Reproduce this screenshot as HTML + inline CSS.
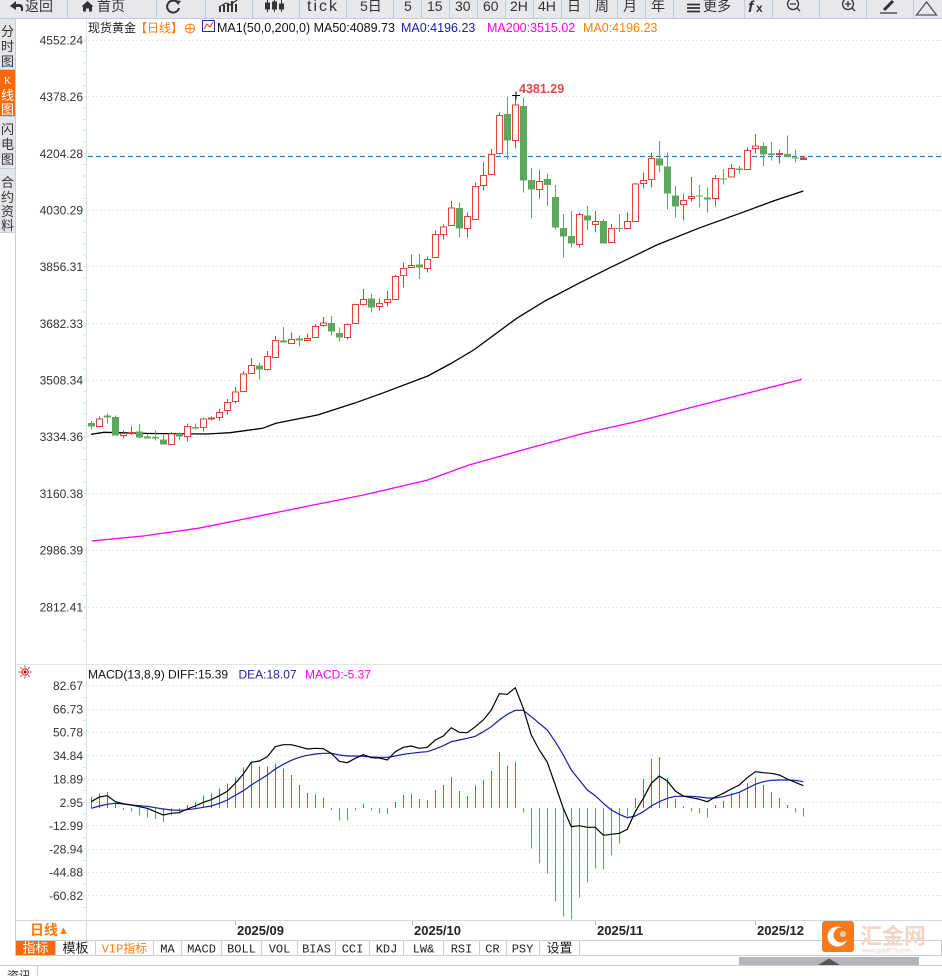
<!DOCTYPE html>
<html><head><meta charset="utf-8"><style>
html,body{margin:0;padding:0;background:#fff;}
body{width:942px;height:976px;overflow:hidden;}
svg{display:block;font-family:"Liberation Sans","Noto Sans CJK SC",sans-serif;}
.ax{font-size:12px;fill:#333;text-anchor:end;}
.mono{font-family:"Liberation Mono","Noto Sans CJK SC",monospace;font-size:12px;fill:#222;text-anchor:middle;}
.sb{font-size:13px;fill:#333;text-anchor:middle;}
.tb{font-size:14px;fill:#333;}
</style></head><body>
<svg width="942" height="976" viewBox="0 0 942 976" xmlns="http://www.w3.org/2000/svg">
<!-- toolbar -->
<rect x="0" y="0" width="942" height="18" fill="#e7e8ed"/>
<line x1="0" y1="18.5" x2="942" y2="18.5" stroke="#c6c9d1"/>
<g stroke="#c6c9d1">
<path d="M67.5 0V18M156.5 0V18M205.5 0V18M252.5 0V18M299.5 0V18M346.5 0V18M393.5 0V18M421.5 0V18M449.5 0V18M477.5 0V18M505.5 0V18M533.5 0V18M561.5 0V18M589.5 0V18M617.5 0V18M645.5 0V18M673.5 0V18M744.5 0V18M772.5 0V18M819.5 0V18M866.5 0V18M913.5 0V18"/>
</g>
<path d="M10 6 L16 1 V4 H19 Q23 4 23 8 V11 H21 V9 Q21 7 19 7 H16 V10 Z" fill="#333"/>
<text x="25" y="11" class="tb">返回</text>
<path d="M81.5 6.5 L87.5 1 L93.5 6.5 H92 V11.5 H89 V8.5 H86 V11.5 H83 V6.5 Z" fill="#333"/>
<text x="97" y="11" class="tb">首页</text>
<path d="M178 3 A6 6 0 1 0 179 8" stroke="#333" stroke-width="2" fill="none"/>
<path d="M175 0 L181 1 L178 5 Z" fill="#333"/>
<path d="M219 12h2v-5h-2zM223 12h2v-7h-2zM227 12h2v-9h-2zM231 12h2v-11h-2zM235 12h2v-8h-2z" fill="#333"/>
<path d="M219 7 L226 3 L230 5 L237 0" stroke="#333" stroke-width="1.2" fill="none"/>
<g fill="#333" stroke="#333"><path d="M267.5 0V12M274.5 0V12M281.5 0V12" stroke-width="1"/><rect x="265.5" y="3" width="4" height="6"/><rect x="272.5" y="2" width="4" height="7"/><rect x="279.5" y="4" width="4" height="5"/></g>
<text x="307" y="11" style="font-size:16px;letter-spacing:2px" fill="#333">tick</text>
<text x="360" y="11" class="tb">5日</text>
<text x="404" y="11" class="tb">5</text>
<text x="427" y="11" class="tb">15</text>
<text x="455" y="11" class="tb">30</text>
<text x="483" y="11" class="tb">60</text>
<text x="510" y="11" class="tb">2H</text>
<text x="538" y="11" class="tb">4H</text>
<text x="567" y="11" class="tb">日</text>
<text x="595" y="11" class="tb">周</text>
<text x="623" y="11" class="tb">月</text>
<text x="651" y="11" class="tb">年</text>
<path d="M687 4.5h13M687 8h13M687 11.5h13" stroke="#333" stroke-width="1.8"/>
<text x="703" y="11" class="tb">更多</text>
<text x="748" y="12" style="font-size:16px;font-style:italic;font-weight:bold" fill="#333">f</text>
<text x="756" y="12" style="font-size:12px;font-weight:bold" fill="#333">x</text>
<circle cx="793" cy="4" r="5.5" stroke="#333" stroke-width="1.3" fill="none"/><path d="M790 4h6M797 8l3 3" stroke="#333" stroke-width="1.3"/>
<circle cx="848" cy="4" r="5.5" stroke="#333" stroke-width="1.3" fill="none"/><path d="M845 4h6M848 1v6M852 8l3 3" stroke="#333" stroke-width="1.3"/>
<path d="M884 10 L893 1" stroke="#333" stroke-width="3"/><path d="M880 13h17" stroke="#333" stroke-width="1.2"/>
<polygon points="916.5,15 926.5,2 936.5,15" stroke="#555" stroke-width="1.3" fill="none"/>

<!-- sidebar -->
<rect x="0" y="19" width="15" height="214" fill="#e5e6eb"/>
<rect x="0" y="70" width="15" height="46" fill="#f76a0c"/>
<path d="M0 69.5h15M0 116.5h15M0 168.5h15M0 232.5h15" stroke="#c9ccd3"/>
<line x1="15.5" y1="19" x2="15.5" y2="956" stroke="#c9ccd3"/>
<text x="7.5" y="36" class="sb">分</text><text x="7.5" y="51" class="sb">时</text><text x="7.5" y="66" class="sb">图</text>
<text x="7.5" y="84" style="font-size:10px;font-family:'Liberation Serif',serif;fill:#fff;text-anchor:middle">K</text>
<text x="7.5" y="100" class="sb" style="fill:#fff">线</text><text x="7.5" y="114" class="sb" style="fill:#fff">图</text>
<text x="7.5" y="134" class="sb">闪</text><text x="7.5" y="149" class="sb">电</text><text x="7.5" y="164" class="sb">图</text>
<text x="7.5" y="187" class="sb">合</text><text x="7.5" y="202" class="sb">约</text><text x="7.5" y="216" class="sb">资</text><text x="7.5" y="230" class="sb">料</text>

<!-- axis -->
<line x1="86.5" y1="19" x2="86.5" y2="920" stroke="#d6e2ec"/>
<g stroke="#d6e2ec">
<path d="M83 40.5h3M83 51.5h3M83 63h3M83 74.5h3M83 85.5h3M83 97h3M83 108h3M83 119.5h3M83 130.5h3M83 142h3M83 153.5h3M83 164.5h3M83 176h3M83 187h3M83 198.5h3M83 210h3M83 221h3M83 232.5h3M83 244h3M83 255h3M83 267h3M83 278h3M83 289.5h3M83 300.5h3M83 312h3M83 323.5h3M83 335h3M83 346h3M83 357.5h3M83 369h3M83 380h3M83 391.5h3M83 403h3M83 414h3M83 425.5h3M83 437h3M83 448h3M83 459.5h3M83 471h3M83 482h3M83 493.5h3M83 505h3M83 516h3M83 527.5h3M83 539h3M83 550h3M83 561.5h3M83 573h3M83 584h3M83 595.5h3M83 607h3M83 618h3M83 629.5h3M83 641h3"/>
<path d="M83 686h3M83 697.5h3M83 709h3M83 720.5h3M83 732.5h3M83 744h3M83 756h3M83 767.5h3M83 779h3M83 790.5h3M83 802.5h3M83 814h3M83 826h3M83 837.5h3M83 849h3M83 860.5h3M83 872.5h3M83 884h3M83 896h3M83 907.5h3"/>
</g>

<!-- gridlines -->
<g stroke="#e4e6e9" stroke-dasharray="2,2">
<path d="M88 40.5H942M88 96.5H942M88 153.5H942M88 210.5H942M88 266.5H942M88 323.5H942M88 380.5H942M88 436.5H942M88 493.5H942M88 550.5H942M88 607.5H942"/>
<path d="M88 685.5H942M88 709.5H942M88 732.5H942M88 755.5H942M88 779.5H942M88 802.5H942M88 825.5H942M88 849.5H942M88 872.5H942M88 895.5H942"/>
</g>

<!-- title -->
<text x="88" y="32" style="font-size:12px" fill="#222">现货黄金</text>
<text x="135" y="32" style="font-size:12px" fill="#ff7b0f">【日线】</text>
<circle cx="190" cy="28.5" r="4.5" stroke="#ff7b0f" fill="none"/><path d="M185.5 28.5h9M190 24v9" stroke="#ff7b0f"/>
<rect x="202.5" y="20.5" width="12" height="11" fill="#fff" stroke="#2a2a9a"/><path d="M204 29 L207 24 L210 27 L213 22" stroke="#e03030" fill="none"/>
<text x="217" y="32" style="font-size:12.5px" fill="#111">MA1(50,0,200,0) MA50:4089.73</text>
<text x="401" y="32" style="font-size:12.5px" fill="#1e1e9e">MA0:4196.23</text>
<text x="487" y="32" style="font-size:12.5px" fill="#ff00ff">MA200:3515.02</text>
<text x="583" y="32" style="font-size:12.5px" fill="#ff8000">MA0:4196.23</text>

<!-- price axis labels -->
<text x="83" y="44.5" class="ax">4552.24</text>
<text x="83" y="101" class="ax">4378.26</text>
<text x="83" y="158" class="ax">4204.28</text>
<text x="83" y="214.5" class="ax">4030.29</text>
<text x="83" y="271" class="ax">3856.31</text>
<text x="83" y="328" class="ax">3682.33</text>
<text x="83" y="384.5" class="ax">3508.34</text>
<text x="83" y="441" class="ax">3334.36</text>
<text x="83" y="498" class="ax">3160.38</text>
<text x="83" y="554.5" class="ax">2986.39</text>
<text x="83" y="611.5" class="ax">2812.41</text>

<!-- MA200 -->
<polyline fill="none" stroke="#ff00ff" stroke-width="1.3" points="91.7,541 143,536 198,528.3 239.5,520 308.4,506 363.5,495 427.8,480 469,465 528.8,448.3 583.9,433.3 639,421 694,406.7 749,392.7 802,379.3"/>
<!-- MA50 -->
<polyline fill="none" stroke="#000" stroke-width="1.3" points="91,434.3 104,432.3 150,433.5 207,434 230,432.7 262.5,428.3 276,423.3 317.6,415 354,403.3 382,393.3 427.8,376 450,364 473.7,350 516.7,318.3 545,301 580,282.7 606.7,269.3 656.7,245 700,227.7 740,213.3 773.3,201 803.3,191"/>

<!-- current price line -->
<line x1="88" y1="156.5" x2="942" y2="156.5" stroke="#1f7fe0" stroke-width="1.3" stroke-dasharray="5,3"/>

<!-- green candles -->
<g fill="#5ea75e" stroke="none" shape-rendering="crispEdges">
<path stroke="#5ea75e" d="M91.5 421V429.7M107.5 413.3V423.7M115.5 415.3V435.7M139.5 424V438.3M147.5 433.7V438.3M155.5 430.3V440.7M163.5 434V444.7M179.5 432.3V440.3M195.5 423.3V429.3M259.5 363V379.7M283.5 327V342.7M299.5 335.3V346.7M331.5 316V335.3M339.5 327.3V341.7M371.5 293.3V312.7M419.5 254V279M459.5 202.7V237.7M507.5 96.7V159.3M523.5 97.7V192.7M531.5 168V218.7M547.5 173.7V206M555.5 185V229.7M563.5 214V257.7M571.5 211V247.7M587.5 206V230M603.5 219V243.7M619.5 214V232M659.5 141V172.7M667.5 152.3V209.7M675.5 186V217.7M699.5 185V207.7M707.5 187.7V212.3M723.5 169V184.7M739.5 166V173.7M763.5 142.3V166.3M771.5 142V160.3M787.5 135.7V157M795.5 149.3V162.3"/>
<rect x="88" y="423" width="7" height="3.7"/>
<rect x="104" y="415.7" width="7" height="2"/>
<rect x="112" y="417" width="7" height="18.7"/>
<rect x="136" y="431.3" width="7" height="6.4"/>
<rect x="144" y="436.3" width="7" height="2"/>
<rect x="152" y="437" width="7" height="1.7"/>
<rect x="160" y="439.3" width="7" height="5.4"/>
<rect x="176" y="433.7" width="7" height="3"/>
<rect x="192" y="427" width="7" height="1.3"/>
<rect x="256" y="365.3" width="7" height="4.4"/>
<rect x="280" y="340.3" width="7" height="2.4"/>
<rect x="296" y="338.3" width="7" height="2.4"/>
<rect x="328" y="323" width="7" height="8.7"/>
<rect x="336" y="333" width="7" height="4.3"/>
<rect x="368" y="298.3" width="7" height="9.4"/>
<rect x="416" y="264.3" width="7" height="3"/>
<rect x="456" y="208" width="7" height="20.7"/>
<rect x="504" y="114" width="7" height="26.7"/>
<rect x="520" y="106" width="7" height="74.7"/>
<rect x="528" y="180" width="7" height="9.7"/>
<rect x="544" y="179" width="7" height="6"/>
<rect x="552" y="197" width="7" height="30.7"/>
<rect x="560" y="228" width="7" height="8.7"/>
<rect x="568" y="236" width="7" height="7.7"/>
<rect x="584" y="215.3" width="7" height="5.4"/>
<rect x="600" y="221" width="7" height="22.7"/>
<rect x="616" y="228" width="7" height="1.2"/>
<rect x="656" y="158.3" width="7" height="7.4"/>
<rect x="664" y="166.3" width="7" height="27.4"/>
<rect x="672" y="195.3" width="7" height="11.4"/>
<rect x="696" y="195.3" width="7" height="1.4"/>
<rect x="704" y="197.3" width="7" height="2"/>
<rect x="720" y="178.3" width="7" height="1.2"/>
<rect x="736" y="168.7" width="7" height="1.2"/>
<rect x="760" y="146" width="7" height="8.3"/>
<rect x="768" y="153.7" width="7" height="1.2"/>
<rect x="784" y="154" width="7" height="3"/>
<rect x="792" y="157.3" width="7" height="1.2"/>
</g>

<!-- red candles -->
<g stroke="#e2403b" fill="#fff" shape-rendering="crispEdges">
<path d="M99.5 416.3V427.7"/><rect x="96.5" y="419" width="6" height="7.3"/>
<path d="M123.5 430.3V438.7"/><rect x="120.5" y="433.7" width="6" height="1.6"/>
<path d="M131.5 426.3V435"/><rect x="128.5" y="432.3" width="6" height="1"/>
<path d="M171.5 432V444.7"/><rect x="168.5" y="434" width="6" height="10.7"/>
<path d="M187.5 423.3V441.7"/><rect x="184.5" y="426.3" width="6" height="10.4"/>
<path d="M203.5 417.7V431.7"/><rect x="200.5" y="419" width="6" height="8.3"/>
<path d="M211.5 416.7V420.3"/><rect x="208.5" y="418" width="6" height="1"/>
<path d="M219.5 409V420.3"/><rect x="216.5" y="412.3" width="6" height="5.4"/>
<path d="M227.5 399V414.7"/><rect x="224.5" y="402.3" width="6" height="8"/>
<path d="M235.5 387V403.7"/><rect x="232.5" y="392" width="6" height="9.3"/>
<path d="M243.5 371V392.7"/><rect x="240.5" y="374" width="6" height="17.3"/>
<path d="M251.5 358V374"/><rect x="248.5" y="365.3" width="6" height="8"/>
<path d="M267.5 351V370.7"/><rect x="264.5" y="356.3" width="6" height="13"/>
<path d="M275.5 336V357.3"/><rect x="272.5" y="340.3" width="6" height="17"/>
<path d="M291.5 332.3V343.3"/><rect x="288.5" y="339.3" width="6" height="4"/>
<path d="M307.5 333.3V340.3"/><rect x="304.5" y="338.3" width="6" height="2"/>
<path d="M315.5 324V337.3"/><rect x="312.5" y="326.3" width="6" height="11"/>
<path d="M323.5 317V326.3"/><rect x="320.5" y="323" width="6" height="2.3"/>
<path d="M347.5 323.3V339.3"/><rect x="344.5" y="324.3" width="6" height="13"/>
<path d="M355.5 303.3V323.3"/><rect x="352.5" y="304.3" width="6" height="19"/>
<path d="M363.5 289V305.3"/><rect x="360.5" y="299.3" width="6" height="5"/>
<path d="M379.5 298.7V310.7"/><rect x="376.5" y="303.3" width="6" height="3"/>
<path d="M387.5 291V306.7"/><rect x="384.5" y="299.3" width="6" height="3"/>
<path d="M395.5 275V299.3"/><rect x="392.5" y="276.3" width="6" height="23"/>
<path d="M403.5 262.3V287.7"/><rect x="400.5" y="268.3" width="6" height="7"/>
<path d="M411.5 254.7V267.3"/><rect x="408.5" y="265.3" width="6" height="2"/>
<path d="M427.5 256.3V272.3"/><rect x="424.5" y="259.7" width="6" height="8.6"/>
<path d="M435.5 230.3V257.3"/><rect x="432.5" y="234.3" width="6" height="23"/>
<path d="M443.5 224.3V239.3"/><rect x="440.5" y="227" width="6" height="7.3"/>
<path d="M451.5 201V225.3"/><rect x="448.5" y="208" width="6" height="17.3"/>
<path d="M467.5 212.7V237.7"/><rect x="464.5" y="216.3" width="6" height="12.4"/>
<path d="M475.5 182.3V219.3"/><rect x="472.5" y="186.3" width="6" height="33"/>
<path d="M483.5 162V190.7"/><rect x="480.5" y="175.7" width="6" height="9.6"/>
<path d="M491.5 149V174.3"/><rect x="488.5" y="154.3" width="6" height="20"/>
<path d="M499.5 112.7V154.7"/><rect x="496.5" y="115.3" width="6" height="38"/>
<path d="M515.5 95.7V148.7"/><rect x="512.5" y="105" width="6" height="35.7"/>
<path d="M539.5 170V198.7"/><rect x="536.5" y="181.3" width="6" height="8"/>
<path d="M579.5 212.3V247.7"/><rect x="576.5" y="214.7" width="6" height="29.6"/>
<path d="M595.5 211V232.3"/><rect x="592.5" y="221.3" width="6" height="3"/>
<path d="M611.5 224V242.3"/><rect x="608.5" y="228.3" width="6" height="14"/>
<path d="M627.5 212V228.7"/><rect x="624.5" y="221.3" width="6" height="7.4"/>
<path d="M635.5 183V221.3"/><rect x="632.5" y="184" width="6" height="37.3"/>
<path d="M643.5 172.3V188.7"/><rect x="640.5" y="180.3" width="6" height="3"/>
<path d="M651.5 152.3V187.7"/><rect x="648.5" y="158.3" width="6" height="21"/>
<path d="M683.5 194V220.7"/><rect x="680.5" y="200.3" width="6" height="4"/>
<path d="M691.5 177V201.7"/><rect x="688.5" y="196.3" width="6" height="2"/>
<path d="M715.5 175V206.7"/><rect x="712.5" y="178.7" width="6" height="19.6"/>
<path d="M731.5 164V177"/><rect x="728.5" y="168.3" width="6" height="8.7"/>
<path d="M747.5 147.7V169.3"/><rect x="744.5" y="150.3" width="6" height="19"/>
<path d="M755.5 134V153.7"/><rect x="752.5" y="146" width="6" height="2.3"/>
<path d="M779.5 149.3V163.7"/><rect x="776.5" y="153.7" width="6" height="1"/>
<path d="M803.5 156.7V159.3"/><rect x="800.5" y="158" width="6" height="1.3" fill="#e2403b"/>
</g>

<!-- max marker -->
<path d="M512 95.5h8M516 91.5v8" stroke="#000" stroke-width="1"/>
<text x="519" y="93" style="font-size:12.5px;font-weight:bold" fill="#e04848">4381.29</text>

<!-- MACD panel -->
<line x1="16" y1="664.5" x2="942" y2="664.5" stroke="#dde4ea"/>
<g transform="translate(25,672)">
<circle r="3.2" fill="none" stroke="#e02020" stroke-width="1.2"/><circle r="1.5" fill="#900"/>
<path d="M0 -6.5V-4.5M0 4.5V6.5M-6.5 0H-4.5M4.5 0H6.5M-4.6 -4.6L-3.3 -3.3M3.3 3.3L4.6 4.6M-4.6 4.6L-3.3 3.3M3.3 -3.3L4.6 -4.6" stroke="#e02020" stroke-width="1"/>
</g>
<text x="88" y="678.5" style="font-size:12px" fill="#111">MACD(13,8,9) DIFF:15.39</text>
<text x="238.5" y="678.5" style="font-size:12px" fill="#1e1e9e">DEA:18.07</text>
<text x="305" y="678.5" style="font-size:12px" fill="#ff00ff">MACD:-5.37</text>

<text x="83" y="690" class="ax">82.67</text>
<text x="83" y="713.5" class="ax">66.73</text>
<text x="83" y="736.5" class="ax">50.78</text>
<text x="83" y="760" class="ax">34.84</text>
<text x="83" y="783.5" class="ax">18.89</text>
<text x="83" y="807" class="ax">2.95</text>
<text x="83" y="830" class="ax">-12.99</text>
<text x="83" y="853.5" class="ax">-28.94</text>
<text x="83" y="876.5" class="ax">-44.88</text>
<text x="83" y="900" class="ax">-60.82</text>

<path shape-rendering="crispEdges" stroke="#d8443f" stroke-width="1" d="M91.5 808V797M99.5 808V793.7M107.5 808V792M115.5 808V803M187.5 808V805M195.5 808V802M203.5 808V795.7M211.5 808V793.3M219.5 808V788.7M227.5 808V783.3M235.5 808V777.7M243.5 808V767.3M251.5 808V762.7M259.5 808V766.3M267.5 808V766.3M275.5 808V763.3M283.5 808V768.7M291.5 808V775M299.5 808V785M307.5 808V793M315.5 808V794.7M323.5 808V797.7M363.5 808V803.7M395.5 808V802M403.5 808V795M411.5 808V794M419.5 808V799M427.5 808V800M435.5 808V790M443.5 808V785M451.5 808V777M459.5 808V791M467.5 808V796M475.5 808V785.7M483.5 808V780M491.5 808V771M499.5 808V752M507.5 808V765.7M515.5 808V762M635.5 808V798M643.5 808V779M651.5 808V759M659.5 808V757M667.5 808V778M675.5 808V799M683.5 808V806.5M715.5 808V805M723.5 808V801M731.5 808V793M739.5 808V793M747.5 808V783M755.5 808V778M763.5 808V785M771.5 808V792M779.5 808V798M787.5 808V805"/>
<path shape-rendering="crispEdges" stroke="#5ea75e" stroke-width="1" d="M123.5 808V810M131.5 808V811.3M139.5 808V815.7M147.5 808V817.7M155.5 808V819M163.5 808V822M171.5 808V815.7M179.5 808V813.3M331.5 808V810M339.5 808V820.7M347.5 808V820.7M355.5 808V810.7M371.5 808V810.7M379.5 808V813.3M387.5 808V814M523.5 808V812.7M531.5 808V848.7M539.5 808V863.7M547.5 808V873.7M555.5 808V901.7M563.5 808V916.7M571.5 808V919.3M579.5 808V897.7M587.5 808V882.7M595.5 808V868.7M603.5 808V869.7M611.5 808V855.7M619.5 808V843.7M627.5 808V816.7M691.5 808V811.7M699.5 808V813.7M707.5 808V817.7M795.5 808V812.7M803.5 808V816.7"/>

<polyline fill="none" stroke="#1a1aa6" stroke-width="1.2" points="91.3,808.3 99.3,806 107.3,804.3 115.3,803.3 123.3,804 131.3,805 139.3,805.7 147.3,806.3 155.3,807.7 163.3,809 171.3,810 179.3,810.3 187.3,809.7 195.3,808.7 203.3,807.3 211.3,806 219.3,803.3 227.3,800 235.3,795.3 243.3,790.7 251.3,785 259.3,780 267.3,775 275.3,769 283.3,764.3 291.3,760.3 299.3,757.3 307.3,755.3 315.3,754 323.3,753.3 331.3,753.3 339.3,755 347.3,756 355.3,756 363.3,756.3 371.3,757 379.3,757.3 387.3,757.3 395.3,756 403.3,754.3 411.3,753.3 419.3,752.3 427.3,751.7 435.3,749 443.3,745.7 451.3,741.7 459.3,740 467.3,738.3 475.3,736.3 483.3,731.7 491.3,726.7 499.3,720 507.3,714.3 515.3,710.3 523.3,710.3 531.3,716.7 539.3,723.3 547.3,730 555.3,741.7 563.3,755 571.3,770 579.3,780 587.3,790 595.3,795.7 603.3,803.3 611.3,810 619.3,814.3 627.3,817.7 635.3,816 643.3,811.7 651.3,806 659.3,801.7 667.3,798.3 675.3,796.3 683.3,796.3 691.3,796.3 699.3,797 707.3,798 715.3,798 723.3,796.7 731.3,794.7 739.3,792.3 747.3,788.3 755.3,784.3 763.3,781.7 771.3,780.3 779.3,780 787.3,780 795.3,780.3 803.3,781.7"/>
<polyline fill="none" stroke="#000" stroke-width="1.2" points="91.3,801.7 99.3,797 107.3,795.7 115.3,801.7 123.3,803.7 131.3,805 139.3,806.7 147.3,808.3 155.3,811.7 163.3,815 171.3,813.3 179.3,812.7 187.3,809 195.3,806 203.3,802.3 211.3,799.7 219.3,795.7 227.3,791.3 235.3,783.3 243.3,774 251.3,762.3 259.3,761 267.3,756.7 275.3,746.7 283.3,744.7 291.3,744.7 299.3,746.7 307.3,749 315.3,748.3 323.3,748.7 331.3,753.3 339.3,761.3 347.3,762.7 355.3,758.3 363.3,754.7 371.3,757.7 379.3,758 387.3,760 395.3,751.7 403.3,747.3 411.3,746 419.3,748.3 427.3,747.3 435.3,740 443.3,736 451.3,727.7 459.3,732.3 467.3,732.7 475.3,726.7 483.3,720 491.3,710 499.3,693.7 507.3,694.3 515.3,687.7 523.3,708.3 531.3,735 539.3,750 547.3,762.3 555.3,785 563.3,808.3 571.3,826.7 579.3,825.7 587.3,827.3 595.3,827.3 603.3,835.3 611.3,834.3 619.3,833.3 627.3,829.3 635.3,811.7 643.3,798.3 651.3,783.3 659.3,776 667.3,781 675.3,791 683.3,796 691.3,797.7 699.3,799.3 707.3,801.7 715.3,797 723.3,793.3 731.3,789 739.3,785 747.3,777.7 755.3,771.7 763.3,772.7 771.3,773.3 779.3,775 787.3,779 795.3,782.3 803.3,785.7"/>

<!-- date axis -->
<line x1="15" y1="920.5" x2="942" y2="920.5" stroke="#d3d9e0"/>
<line x1="86.5" y1="920" x2="86.5" y2="940" stroke="#d3d9e0"/>
<path d="M235.5 921v4M412.5 921v4M595.5 921v4M755.5 921v4" stroke="#bbb"/>
<text x="30" y="935" style="font-size:14px;font-weight:bold" fill="#ff7b0f">日线</text>
<text x="58" y="934" style="font-size:11px" fill="#ff7b0f">▲</text>
<g style="font-size:13px;font-weight:bold" fill="#222">
<text x="237" y="935">2025/09</text>
<text x="414" y="935">2025/10</text>
<text x="597" y="935">2025/11</text>
<text x="757" y="935">2025/12</text>
</g>

<!-- indicator tabs -->
<rect x="15.5" y="940.5" width="926" height="15" fill="#fff" stroke="#c9ced6"/>
<rect x="16" y="941" width="39.5" height="14" fill="#f76a0c"/>
<path d="M55.5 941v15M95.5 941v15M153.5 941v15M181.5 941v15M221.5 941v15M261.5 941v15M297.5 941v15M335.5 941v15M369.5 941v15M403.5 941v15M443.5 941v15M479.5 941v15M506.5 941v15M539.5 941v15M579.5 941v15" stroke="#c9ced6"/>
<text x="35.5" y="952.5" class="mono" style="fill:#fff;font-size:13px">指标</text>
<text x="75.5" y="952.5" class="mono" style="font-size:13px">模板</text>
<text x="124.5" y="952.5" class="mono" style="fill:#ff7b0f">VIP指标</text>
<text x="167.5" y="952.5" class="mono">MA</text>
<text x="201.5" y="952.5" class="mono">MACD</text>
<text x="241.5" y="952.5" class="mono">BOLL</text>
<text x="279.5" y="952.5" class="mono">VOL</text>
<text x="316.5" y="952.5" class="mono">BIAS</text>
<text x="352.5" y="952.5" class="mono">CCI</text>
<text x="386.5" y="952.5" class="mono">KDJ</text>
<text x="423.5" y="952.5" class="mono">LW&amp;</text>
<text x="461.5" y="952.5" class="mono">RSI</text>
<text x="492.5" y="952.5" class="mono">CR</text>
<text x="522.5" y="952.5" class="mono">PSY</text>
<text x="559.5" y="952.5" class="mono" style="font-size:13px">设置</text>

<!-- scrollbar / bottom -->
<rect x="739" y="957" width="180" height="8" fill="#b4b5ba"/>
<polygon points="818,965 829,958.5 840,965" fill="#555"/>
<line x1="0" y1="965.5" x2="942" y2="965.5" stroke="#c9ced6"/>
<line x1="37.5" y1="966" x2="37.5" y2="976" stroke="#c9ced6"/>
<text x="7" y="980" style="font-size:12px" fill="#333">资讯</text>

<!-- watermark -->
<rect x="822" y="921" width="32" height="31" rx="3" fill="#f47a1f"/>
<circle cx="837.5" cy="936.5" r="10" fill="#fff"/>
<circle cx="841" cy="935" r="7.5" fill="#f47a1f"/>
<circle cx="843" cy="934" r="3" fill="#fff" opacity="0.6"/>
<text x="860" y="944" style="font-size:22px;font-weight:bold" fill="#f2d5c6">汇金网</text>
<text x="862" y="952.5" style="font-size:6px" fill="#eccfc2">www.gold678.com</text>
</svg>
</body></html>
